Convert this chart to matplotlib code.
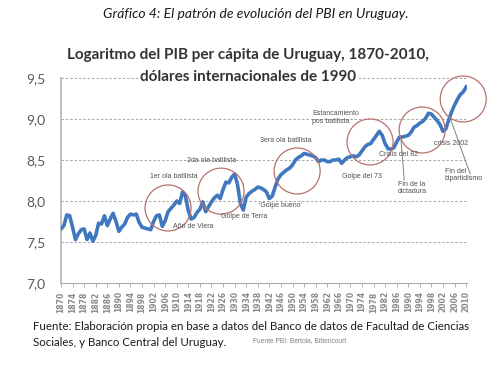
import matplotlib
matplotlib.use("Agg")
import matplotlib.pyplot as plt
from matplotlib.patches import Ellipse

# ---------------- data ----------------
years = list(range(1870, 2011))
log_pib = [
    7.66, 7.70, 7.83, 7.82, 7.68, 7.53, 7.60, 7.65, 7.66, 7.53,   # 1870-1879
    7.61, 7.51, 7.58, 7.73, 7.72, 7.82, 7.70, 7.78, 7.85, 7.75,   # 1880-1889
    7.63, 7.68, 7.72, 7.80, 7.84, 7.83, 7.84, 7.74, 7.68, 7.67,   # 1890-1899
    7.66, 7.65, 7.75, 7.82, 7.83, 7.69, 7.76, 7.87, 7.91, 7.95,   # 1900-1909
    8.00, 7.97, 8.11, 8.06, 7.88, 7.78, 7.80, 7.86, 7.90, 7.99,   # 1910-1919
    7.87, 7.93, 7.99, 8.04, 8.07, 8.03, 8.14, 8.23, 8.22, 8.29,   # 1920-1929
    8.33, 8.20, 7.97, 7.89, 8.05, 8.09, 8.12, 8.14, 8.17, 8.16,   # 1930-1939
    8.14, 8.11, 8.03, 8.06, 8.17, 8.27, 8.32, 8.35, 8.38, 8.40,   # 1940-1949
    8.44, 8.50, 8.53, 8.55, 8.58, 8.57, 8.56, 8.55, 8.53, 8.48,   # 1950-1959
    8.50, 8.50, 8.48, 8.48, 8.50, 8.50, 8.51, 8.46, 8.50, 8.53,   # 1960-1969
    8.54, 8.55, 8.54, 8.56, 8.61, 8.66, 8.69, 8.70, 8.75, 8.80,   # 1970-1979
    8.85, 8.80, 8.70, 8.64, 8.63, 8.65, 8.72, 8.78, 8.78, 8.79,   # 1980-1989
    8.80, 8.84, 8.90, 8.92, 8.95, 8.97, 9.01, 9.07, 9.06, 9.02,   # 1990-1999
    8.98, 8.93, 8.85, 8.88, 8.99, 9.09, 9.17, 9.24, 9.30, 9.33,   # 2000-2009
    9.39,                                                         # 2010
]
xtick_years = [1870, 1874, 1878, 1882, 1886, 1890, 1894, 1898, 1902, 1906,
               1910, 1914, 1918, 1922, 1926, 1930, 1934, 1938, 1942, 1946,
               1950, 1954, 1958, 1962, 1966, 1970, 1974, 1978, 1982, 1986,
               1990, 1994, 1998, 2002, 2006, 2010]
xtick_labels = [str(y) for y in xtick_years]
ytick_values = [7.0, 7.5, 8.0, 8.5, 9.0, 9.5]
ytick_labels = ["7,0", "7,5", "8,0", "8,5", "9,0", "9,5"]

# annotations: (text, year, value, ha)
notes = [
    ("1er ola batllista", 1909.1, 8.293, "center"),
    ("2da ola batllista", 1922.2, 8.488, "center"),
    ("3era ola batllista", 1947.8, 8.732, "center"),
    ("Estancamiento\npos batllista", 1956.8, 9.02, "left"),
    ("Crisis del 82", 1986.5, 8.573, "center"),
    ("crisis 2002", 2004.8, 8.707, "center"),
    ("Fin del\nbipartidismo", 2002.7, 8.317, "left"),
    ("Fin de la\ndictadura", 1986.5, 8.159, "left"),
    ("Golpe del 73", 1974.0, 8.293, "center"),
    ("'Golpe bueno'", 1945.7, 7.951, "center"),
    ("Golpe de Terra", 1933.3, 7.817, "center"),
    ("Año de Viera", 1915.6, 7.683, "center"),
]
circles = [(1907.0, 7.915), (1925.3, 8.12), (1951.6, 8.366),
           (1976.8, 8.72), (1994.8, 8.866), (2009.0, 9.244)]

# ---------------- figure ----------------
W, H = 500, 371
fig = plt.figure(figsize=(W / 100, H / 100), dpi=100)
ax = fig.add_axes([61 / W, 1 - 283 / H, (467 - 61) / W, (283 - 78) / H])

ax.plot(years, log_pib, color="#4078c0", lw=2.6, solid_joinstyle="round",
        zorder=3)

ax.set_xlim(1870, 2010.3)
ax.set_ylim(7.0, 9.5)

for v in ytick_values[1:]:
    ax.axhline(v, color="#a6a6a6", lw=0.7, ls=(0, (2.5, 2)), zorder=1)

ax.set_yticks(ytick_values)
ax.set_yticklabels(ytick_labels, fontsize=10, color="#595959",
                   family="Lato")
ax.tick_params(axis="y", length=0, pad=11)
ax.set_xticks(xtick_years)
ax.set_xticklabels(xtick_labels, rotation=90, fontsize=5.5,
                   fontweight="bold", color="#8a8a8a", family="DejaVu Sans")
ax.tick_params(axis="x", length=3, color="#a6a6a6", width=0.6, pad=3)

for s in ("top", "right"):
    ax.spines[s].set_visible(False)
ax.spines["left"].set_color("#bfbfbf")
ax.spines["left"].set_linewidth(1.4)
ax.spines["bottom"].set_color("#a6a6a6")
ax.spines["bottom"].set_linewidth(0.7)

# circles (radius ~23 px)
rw = 2 * 23 / 2.893
rh = 2 * 23 / 82
for cx, cy in circles:
    ax.add_patch(Ellipse((cx, cy), rw, rh, fill=False, ec="#b8716c",
                         lw=0.9, clip_on=False, zorder=4))

for txt, x, y, ha in notes:
    ax.text(x, y, txt, fontsize=5, color="#505050", ha=ha, va="center",
            family="Liberation Sans", linespacing=1.1, zorder=5)

# pointer lines
ax.plot([1988.6, 1987.5], [8.256, 8.744], color="#808080", lw=0.7,
        clip_on=False, zorder=5)
ax.plot([2011.4, 2004.5], [8.33, 9.01], color="#808080", lw=0.7,
        clip_on=False, zorder=5)

# ---------------- texts ----------------
fig.text(256 / W, 1 - 14 / H,
         "Gráfico 4: El patrón de evolución del PBI en Uruguay.",
         ha="center", va="center", fontsize=10, style="italic",
         family="Lato", color="#1a1a1a")
fig.text(248 / W, 1 - 55 / H,
         "Logaritmo del PIB per cápita de Uruguay, 1870-2010,",
         ha="center", va="center", fontsize=11, fontweight="bold",
         family="Lato", color="#333333")
fig.text(248 / W, 1 - 77 / H, "dólares internacionales de 1990",
         ha="center", va="center", fontsize=11, fontweight="bold",
         family="Lato", color="#333333",
         bbox=dict(facecolor="white", edgecolor="none", pad=1))
fig.text(33 / W, 1 - 327 / H,
         "Fuente: Elaboración propia en base a datos del Banco de datos de "
         "Facultad de Ciencias",
         ha="left", va="center", fontsize=8.3, family="Lato",
         color="#1a1a1a")
fig.text(33 / W, 1 - 342 / H, "Sociales, y Banco Central del Uruguay.",
         ha="left", va="center", fontsize=8.3, family="Lato",
         color="#1a1a1a")
fig.text(253 / W, 1 - 341 / H, "Fuente PBI: Bértola, Bittencourt",
         ha="left", va="center", fontsize=4.8, family="Liberation Sans",
         color="#808080")

fig.savefig("out.png", dpi=100)
